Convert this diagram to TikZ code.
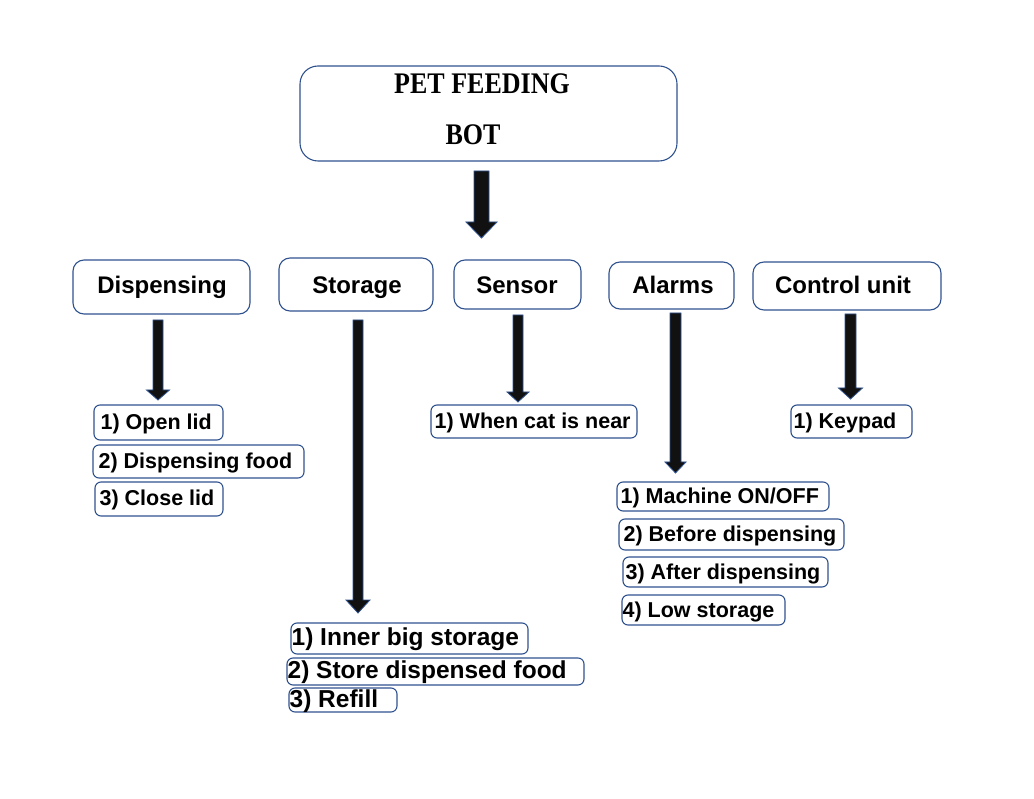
\documentclass[tikz,border=0pt]{standalone}
\usepackage{fontspec}
\setmainfont{Liberation Sans}
\newfontfamily\titlefont{Liberation Serif}
\definecolor{bord}{RGB}{47,82,143}
\definecolor{arrfill}{RGB}{17,17,17}
\tikzset{
  boxbase/.style={draw=bord, line width=1.1pt, inner sep=0pt},
  hdr/.style={boxbase, rounded corners=11pt},
  itm/.style={boxbase, rounded corners=6pt},
  hdrtext/.style={inner sep=0pt, text=black, anchor=base, font=\fontsize{24}{28}\selectfont\bfseries},
  itmtext/.style={inner sep=0pt, text=black, anchor=base west, font=\fontsize{21.5}{24}\selectfont\bfseries},
  bigtext/.style={itmtext, font=\fontsize{24.5}{27}\selectfont\bfseries},
  titletext/.style={inner sep=0pt, text=black, font=\titlefont\fontsize{26}{30}\selectfont\bfseries, yscale=1.15},
  blockarr/.style={draw=bord, line width=0.8pt, fill=arrfill},
}
% empty box: name, x1, y1, x2, y2, style
\newcommand\ptbox[6]{%
  \pgfmathsetmacro\ibw{#4-#2}%
  \pgfmathsetmacro\ibh{#5-#3}%
  \pgfmathsetmacro\icx{(#2+#4)/2}%
  \pgfmathsetmacro\icy{(#3+#5)/2}%
  \node[#6, minimum width=\ibw pt, minimum height=\ibh pt] (#1) at (\icx,\icy) {};%
}
% item: name, x1, y1, x2, y2, left pad, text style, text
\newcommand\itembox[8]{%
  \ptbox{#1}{#2}{#3}{#4}{#5}{itm}%
  \node[#7] (#1-t) at ([xshift=#6pt, yshift=-7pt]#1.west) {#8};%
}
% header: name, x1, y1, x2, y2, text x, text
\newcommand\hdrbox[7]{%
  \ptbox{#1}{#2}{#3}{#4}{#5}{hdr}%
  \node[hdrtext] (#1-t) at (#6,294) {#7};%
}
% x, ytop, yhead, ytip, half shaft, half head
\newcommand\blockarrow[6]{%
  \draw[blockarr] ({#1-#5},#2) -- ({#1+#5},#2) -- ({#1+#5},#3) -- ({#1+#6},#3) -- (#1,#4)
    -- ({#1-#6},#3) -- ({#1-#5},#3) -- cycle;%
}
\begin{document}
\begin{tikzpicture}[x=1pt,y=-1pt]
\useasboundingbox (0,0) rectangle (1034,799);

% title
\ptbox{title}{300}{66}{677}{161}{boxbase, rounded corners=18pt}
\node[titletext] (t1) at (482,84) {PET FEEDING};
\node[titletext] (t2) at (473,135) {BOT};
\blockarrow{481.5}{171}{222}{238}{7.5}{15.5}

% headers
\hdrbox{disp}{73}{260}{250}{314}{162}{Dispensing}
\hdrbox{stor}{279}{258}{433}{311}{357}{Storage}
\hdrbox{sens}{454}{260}{581}{309}{517}{Sensor}
\hdrbox{alrm}{609}{262}{734}{309}{673}{Alarms}
\hdrbox{ctrl}{753}{262}{941}{310}{843}{Control unit}

% arrows
\blockarrow{158}{320}{390}{400}{5}{11.5}
\blockarrow{358}{320}{600}{613}{5}{12}
\blockarrow{518}{315}{392}{402}{5}{11}
\blockarrow{675.5}{313}{462}{473}{5.5}{10.5}
\blockarrow{850.5}{314}{388}{399}{5.5}{12}

% dispensing items
\itembox{d1}{94}{405}{223}{440}{7}{itmtext}{1) Open lid}
\itembox{d2}{93}{445}{304}{478}{6}{itmtext}{2) Dispensing food}
\itembox{d3}{95}{482}{223}{516}{5}{itmtext}{3) Close lid}

% sensor item
\itembox{s1}{431}{405}{637}{438}{4}{itmtext}{1) When cat is near}

% control item
\itembox{c1}{791}{405}{912}{438}{3}{itmtext}{1) Keypad}

% alarm items
\itembox{a1}{617}{482}{829}{511}{4}{itmtext}{1) Machine ON/OFF}
\itembox{a2}{619}{519}{844}{550}{5}{itmtext}{2) Before dispensing}
\itembox{a3}{623}{557}{828}{587}{3}{itmtext}{3) After dispensing}
\itembox{a4}{622}{595}{785}{625}{1}{itmtext}{4) Low storage}

% storage items
\itembox{g1}{291}{623}{528}{654}{1}{bigtext}{1) Inner big storage}
\itembox{g2}{287}{658}{584}{685}{1}{bigtext}{2) Store dispensed food}
\itembox{g3}{289}{688}{397}{712}{1}{bigtext}{3) Refill}
\end{tikzpicture}
\end{document}
